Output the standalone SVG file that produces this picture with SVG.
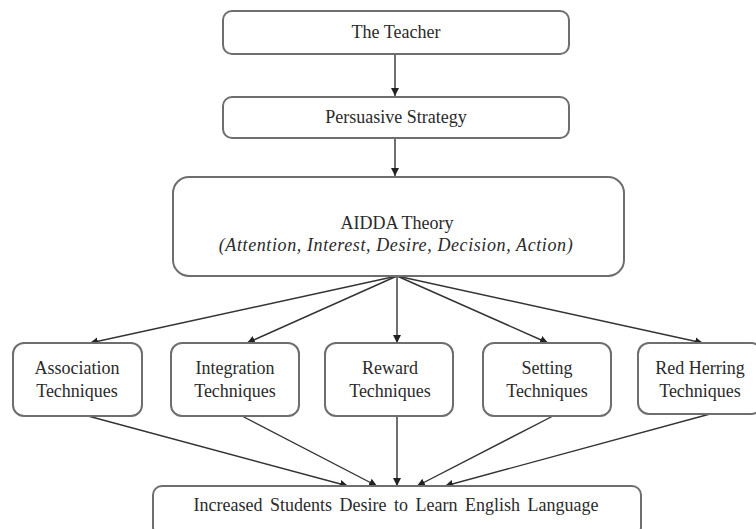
<svg xmlns="http://www.w3.org/2000/svg" width="756" height="529" viewBox="0 0 756 529">
<style>
.box{fill:#fff;stroke:#6e6e6e;stroke-width:2}
.t{font-family:"Liberation Serif","Times New Roman",serif;font-size:18px;fill:#2a2a2a;text-anchor:middle}
.i{font-style:italic;letter-spacing:0.6px}
.c{stroke:#333;stroke-width:1.4;fill:none;marker-end:url(#ah)}
</style>
<defs>
<marker id="ah" viewBox="0 0 10 10" refX="10" refY="5" markerWidth="8" markerHeight="8" markerUnits="userSpaceOnUse" orient="auto">
<path d="M0,0 L10,5 L0,10 z" fill="#222"/>
</marker>
</defs>
<rect width="756" height="529" fill="#fff"/>
<g id="connectors">
<line class="c" x1="395" y1="54" x2="395" y2="96"/>
<line class="c" x1="395" y1="138" x2="395" y2="176"/>
<line class="c" x1="397" y1="276" x2="90" y2="343"/>
<line class="c" x1="397" y1="276" x2="247" y2="343"/>
<line class="c" x1="397" y1="276" x2="397" y2="343"/>
<line class="c" x1="397" y1="276" x2="548" y2="343"/>
<line class="c" x1="397" y1="276" x2="703" y2="343"/>
<line class="c" x1="88" y1="416" x2="348" y2="486"/>
<line class="c" x1="242" y1="416" x2="377" y2="486"/>
<line class="c" x1="397" y1="416" x2="397" y2="486"/>
<line class="c" x1="553" y1="416" x2="417" y2="486"/>
<line class="c" x1="710" y1="414" x2="445" y2="486"/>
</g>
<g id="teacher">
<rect class="box" x="223" y="11" width="346" height="43" rx="9"/>
<text class="t" x="396" y="38">The Teacher</text>
</g>
<g id="persuasive">
<rect class="box" x="223" y="97" width="346" height="41" rx="9"/>
<text class="t" x="396" y="123">Persuasive Strategy</text>
</g>
<g id="aidda">
<rect class="box" x="173" y="177" width="451" height="99" rx="16"/>
<text class="t" x="397" y="229">AIDDA Theory</text>
<text class="t i" x="396" y="251">(Attention, Interest, Desire, Decision, Action)</text>
</g>
<g id="association">
<rect class="box" x="13" y="343" width="129" height="73" rx="11"/>
<text class="t" x="77" y="374">Association</text>
<text class="t" x="77" y="397">Techniques</text>
</g>
<g id="integration">
<rect class="box" x="171" y="343" width="128" height="73" rx="11"/>
<text class="t" x="235" y="374">Integration</text>
<text class="t" x="235" y="397">Techniques</text>
</g>
<g id="reward">
<rect class="box" x="325" y="343" width="128" height="73" rx="11"/>
<text class="t" x="390" y="374">Reward</text>
<text class="t" x="390" y="397">Techniques</text>
</g>
<g id="setting">
<rect class="box" x="483" y="343" width="128" height="73" rx="11"/>
<text class="t" x="547" y="374">Setting</text>
<text class="t" x="547" y="397">Techniques</text>
</g>
<g id="redherring">
<rect class="box" x="638" y="343" width="124" height="71" rx="11"/>
<text class="t" x="700" y="374">Red Herring</text>
<text class="t" x="700" y="397">Techniques</text>
</g>
<g id="increased">
<rect class="box" x="153" y="486" width="488" height="50" rx="9"/>
<text class="t" x="396" y="511" word-spacing="3">Increased Students Desire to Learn English Language</text>
</g>
</svg>
